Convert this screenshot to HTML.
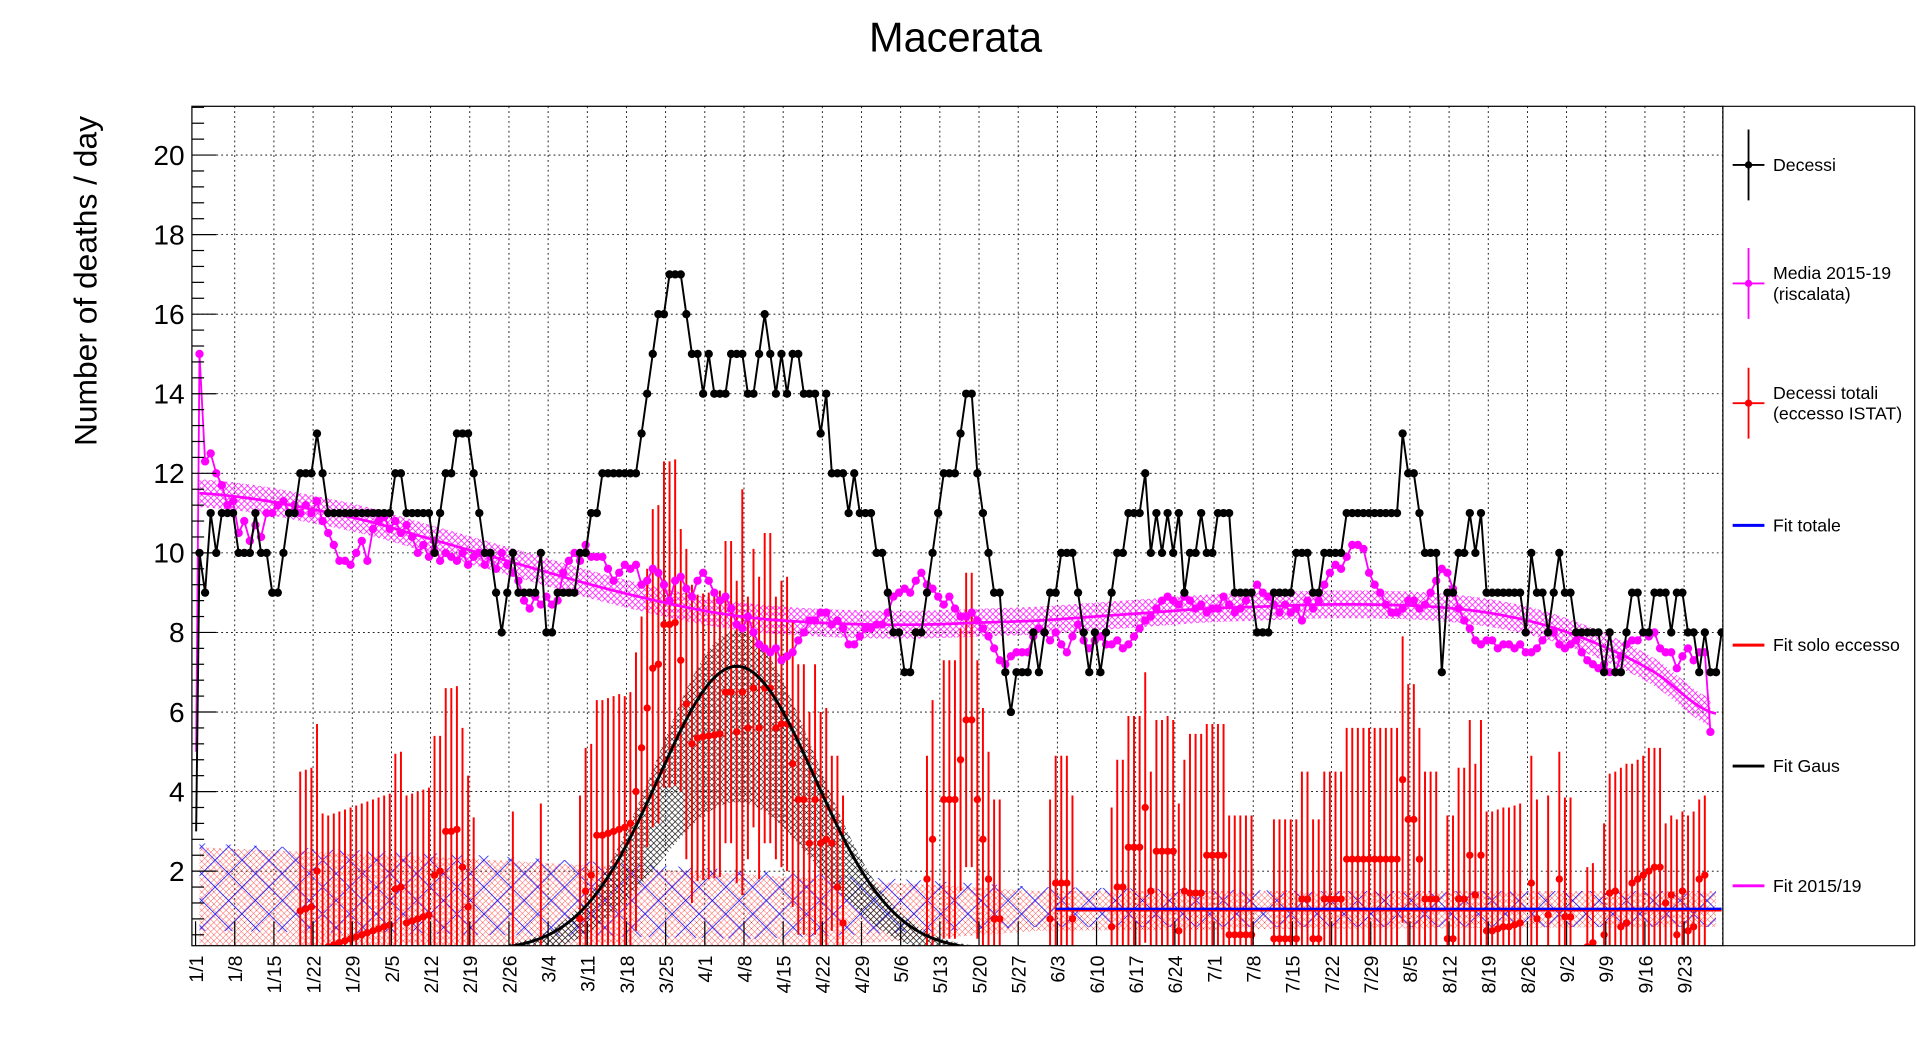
<!DOCTYPE html>
<html><head><meta charset="utf-8"><style>
html,body{margin:0;padding:0;background:#fff;overflow:hidden}
svg{display:block;font-family:"Liberation Sans",sans-serif}
</style></head><body>
<svg id="chart" width="1916" height="1052" viewBox="0 0 1568 861" xmlns="http://www.w3.org/2000/svg">
<defs>
<pattern id="hM" width="5" height="5" patternUnits="userSpaceOnUse"><path d="M0,0L5,5M5,0L0,5" stroke="#f0f" stroke-width="0.6"/></pattern>
<pattern id="hR" width="5" height="5" patternUnits="userSpaceOnUse"><path d="M0,0L5,5M5,0L0,5" stroke="#f00" stroke-width="0.35"/></pattern>
<pattern id="hB" width="22" height="22" patternUnits="userSpaceOnUse"><path d="M0,0L22,22M22,0L0,22" stroke="#00f" stroke-width="0.6"/></pattern>
<pattern id="hK" width="5" height="5" patternUnits="userSpaceOnUse"><path d="M0,0L5,5M5,0L0,5" stroke="#000" stroke-width="0.5"/></pattern>
<clipPath id="pc"><rect x="157" y="87" width="1253" height="687"/></clipPath>
</defs>
<text x="782" y="42" font-size="34" text-anchor="middle">Macerata</text>
<text transform="translate(79,230) rotate(-90)" font-size="26" text-anchor="middle">Number of deaths / day</text>
<g id="grid"></g>
<g id="bands" clip-path="url(#pc)"></g>
<g id="series" clip-path="url(#pc)"></g>
<rect x="157" y="87" width="1253" height="687" fill="none" stroke="#000" stroke-width="1"/>
<g id="axes"></g>
<g id="legend">
<line x1="1410" y1="87" x2="1410" y2="774" stroke="#000" stroke-dasharray="2,2"/>
<line x1="1410" y1="87" x2="1567" y2="87" stroke="#000"/>
<line x1="1567" y1="87" x2="1567" y2="774" stroke="#000"/>
<line x1="1410" y1="774" x2="1567" y2="774" stroke="#000"/>
</g>
</svg>
<script>
const NS="http://www.w3.org/2000/svg";
const xTickLabels=["1/1","1/8","1/15","1/22","1/29","2/5","2/12","2/19","2/26","3/4","3/11","3/18","3/25","4/1","4/8","4/15","4/22","4/29","5/6","5/13","5/20","5/27","6/3","6/10","6/17","6/24","7/1","7/8","7/15","7/22","7/29","8/5","8/12","8/19","8/26","9/2","9/9","9/16","9/23"];
const yTickLabels=[2,4,6,8,10,12,14,16,18,20];
const decessi=[10,9,11,10,11,11,11,10,10,10,11,10,10,9,9,10,11,11,12,12,12,13,12,11,11,11,11,11,11,11,11,11,11,11,11,12,12,11,11,11,11,11,10,11,12,12,13,13,13,12,11,10,10,9,8,9,10,9,9,9,9,10,8,8,9,9,9,9,10,10,11,11,12,12,12,12,12,12,12,13,14,15,16,16,17,17,17,16,15,15,14,15,14,14,14,15,15,15,14,14,15,16,15,14,15,14,15,15,14,14,14,13,14,12,12,12,11,12,11,11,11,10,10,9,8,8,7,7,8,8,9,10,11,12,12,12,13,14,14,12,11,10,9,9,7,6,7,7,7,8,7,8,9,9,10,10,10,9,8,7,8,7,8,9,10,10,11,11,11,12,10,11,10,11,10,11,9,10,10,11,10,10,11,11,11,9,9,9,9,8,8,8,9,9,9,9,10,10,10,9,9,10,10,10,10,11,11,11,11,11,11,11,11,11,11,13,12,12,11,10,10,10,7,9,9,10,10,11,10,11,9,9,9,9,9,9,9,8,10,9,9,8,9,10,9,9,8,8,8,8,8,7,8,7,7,8,9,9,8,8,9,9,9,8,9,9,8,8,7,8,7,7,8];
const media=[15,12.3,12.5,12,11.7,11.2,11.3,10.5,10.8,10.3,10.7,10.4,11,11,11.2,11.3,11,11.2,11,11.2,11,11.3,10.8,10.5,10.2,9.8,9.8,9.7,10,10.3,9.8,10.6,10.8,10.9,10.6,10.8,10.5,10.7,10.4,10,10.2,9.9,10.3,9.8,10,9.9,9.8,10,9.7,9.9,10,9.7,9.9,9.6,10,9.7,9.5,9.3,8.8,8.6,8.9,8.7,8.9,8.7,8.8,9.5,9.8,10,9.8,10.2,9.9,9.9,9.9,9.6,9.3,9.5,9.7,9.6,9.7,9.2,9.3,9.6,9.5,9.2,8.8,9.3,9.4,9.1,8.9,9.3,9.5,9.3,9,8.8,8.9,8.6,8.2,8.1,8.4,8,7.7,7.6,7.5,7.6,7.3,7.4,7.5,7.8,8,8.3,8.3,8.5,8.5,8.2,8.3,8.1,7.7,7.7,7.9,8.1,8.1,8.2,8.2,8.5,8.9,9,9.1,9,9.3,9.5,9.2,9.1,8.9,8.7,8.9,8.6,8.4,8.4,8.5,8.3,8.1,7.9,7.6,7.3,7.2,7.4,7.5,7.5,7.5,7.9,8.1,8,7.8,8,7.7,7.5,7.9,8.2,7.8,7.6,7.8,7.9,7.7,7.7,7.8,7.6,7.7,7.9,8.1,8.3,8.4,8.6,8.8,8.9,8.8,8.7,8.9,8.8,8.6,8.7,8.5,8.6,8.6,8.9,8.7,8.5,8.6,8.8,9,9.2,9,8.9,8.7,8.5,8.7,8.5,8.6,8.3,8.8,8.6,8.8,9.2,9.5,9.7,9.6,9.9,10.2,10.2,10.1,9.5,9.2,9,8.7,8.5,8.5,8.6,8.8,8.8,8.6,8.7,9,9.3,9.6,9.5,9.1,8.6,8.3,8.1,7.8,7.7,7.8,7.8,7.6,7.7,7.7,7.6,7.7,7.5,7.5,7.6,7.8,8,8,7.7,7.6,7.7,7.8,7.5,7.3,7.2,7.1,7.2,7,7,7.4,7.7,7.8,7.8,8,7.9,8,7.6,7.5,7.5,7.1,7.4,7.6,7.3,7.5,7.5,5.5];
const redDays=[18,19,20,21,22,23,24,25,26,27,28,29,30,31,32,33,34,35,36,37,38,39,40,41,42,43,44,45,46,47,48,49,56,61,68,69,70,71,72,73,74,75,76,77,78,79,80,81,82,83,84,85,86,87,88,89,90,91,92,93,94,95,96,97,98,99,100,101,102,103,104,105,106,107,108,109,110,111,112,113,114,115,130,131,133,134,135,136,137,138,139,140,141,142,143,152,153,154,155,156,163,164,165,166,167,168,169,170,171,172,173,174,175,176,177,178,179,180,181,182,183,184,185,186,187,188,192,193,194,195,196,197,198,199,200,201,202,203,204,205,206,207,208,209,210,211,212,213,214,215,216,217,218,219,220,221,223,224,225,226,227,228,229,230,231,232,233,234,235,236,238,239,241,243,244,245,248,249,251,252,253,254,255,256,257,258,259,260,261,262,263,264,265,266,267,268,269];
const redVals=[1,1.05,1.1,2,0.05,0.1,0.15,0.2,0.25,0.3,0.35,0.4,0.45,0.5,0.55,0.6,0.65,1.55,1.6,0.7,0.75,0.8,0.85,0.9,1.9,2,3,3,3.05,2.1,1.1,0.05,-0.2,-0.1,0.8,1.5,1.9,2.9,2.9,2.95,3,3.05,3.1,3.2,4,5.1,6.1,7.1,7.2,8.2,8.2,8.25,7.3,6.2,5.2,5.35,5.38,5.4,5.42,5.45,6.5,6.5,5.5,6.5,5.6,6.6,5.6,6.6,6.6,5.6,5.7,5.7,4.7,3.8,3.8,2.7,3.8,2.7,2.8,2.7,1.6,0.7,1.8,2.8,3.8,3.8,3.8,4.8,5.8,5.8,3.8,2.8,1.8,0.8,0.8,0.8,1.7,1.7,1.7,0.8,0.6,1.6,1.6,2.6,2.6,2.6,3.6,1.5,2.5,2.5,2.5,2.5,0.5,1.5,1.45,1.45,1.45,2.4,2.4,2.4,2.4,0.4,0.4,0.4,0.4,0.4,0.3,0.3,0.3,0.3,0.3,1.3,1.3,0.3,0.3,1.3,1.3,1.3,1.3,2.3,2.3,2.3,2.3,2.3,2.3,2.3,2.3,2.3,2.3,4.3,3.3,3.3,2.3,1.3,1.3,1.3,0.3,0.3,1.3,1.3,2.4,1.4,2.4,0.5,0.5,0.55,0.6,0.6,0.65,0.7,1.7,0.8,0.9,1.8,0.85,0.85,0.1,0.2,0.4,1.45,1.5,0.6,0.7,1.7,1.8,1.9,2,2.1,2.1,1.2,1.4,0.4,1.5,0.5,0.6,1.8,1.9];
const redErrs=[3.5,3.5,3.5,3.7,3.4,3.3,3.3,3.3,3.3,3.3,3.3,3.3,3.3,3.3,3.3,3.3,3.3,3.4,3.4,3.2,3.2,3.2,3.2,3.2,3.5,3.4,3.6,3.6,3.6,3.5,3.3,3.3,3.7,3.8,3.1,3.6,3.3,3.4,3.4,3.4,3.4,3.4,3.3,3.3,3.5,3.3,3.5,4,4,4.1,4.1,4.1,3.3,3.9,4,3.6,3.6,3.6,3.6,3.6,3.8,3.8,3.8,5.1,3.3,3.5,3.8,3.9,3.9,3.3,3.6,3.7,3.6,3.4,3.4,3.3,3.4,3.3,3.3,2.2,3.3,3.2,3.1,3.5,3.5,3.5,3.5,3.3,3.7,3.7,3.5,3.3,3.2,3,3,3,3.2,3.2,3.2,3.1,3,3.2,3.2,3.3,3.3,3.3,3.4,3,3.3,3.3,3.4,3.3,3.2,3.3,4,4,4,3.3,3.3,3.3,3.3,3,3,3,3,3,3,3,3,3,3,3.2,3.2,3,3,3.2,3.2,3.2,3.2,3.3,3.3,3.3,3.3,3.3,3.3,3.3,3.3,3.3,3.3,3.6,3.4,3.4,3.3,3.2,3.2,3.2,3.1,3.1,3.3,3.3,3.4,3.3,3.4,3,3,3,3,3,3,3,3.2,3,3,3.2,3,3,2,2,2.8,3,3,4,4,3,3,3,3.1,3,3,2,2,2.9,2,2.9,2.9,2,2];
const fitDays=[0,10,20,30,40,50,60,70,80,90,100,110,120,130,140,150,160,170,180,190,200,210,220,230,240,250,260,270];
const fitVals=[11.5,11.35,11.1,10.8,10.4,10,9.6,9.2,8.85,8.55,8.35,8.25,8.2,8.2,8.25,8.3,8.4,8.5,8.6,8.65,8.7,8.7,8.65,8.5,8.2,7.7,7,6];
const gausAmp=7.15, gausMean=96, gausSigma=14;
const blueBandDays=[0,50,100,150,200,271];
const blueLow=[0.5,0.4,0.3,0.6,0.6,0.6];
const blueHigh=[2.7,2.4,2.0,1.6,1.5,1.5];
const redBandLow=[0,0,0,0.5,0.55,0.6];
const redBandHigh=[2.6,2.3,1.9,1.5,1.5,1.5];
const excessFitDays=[153,272];
const excessFitVals=[1.05,1.05];

const X=d=>160+4.58*(d+0.7);
const Y=v=>778.1-32.56*v;
function mk(tag,attrs,parent){const e=document.createElementNS(NS,tag);for(const k in attrs)e.setAttribute(k,attrs[k]);parent.appendChild(e);return e;}
function interp(ds,vs,d){for(let i=0;i<ds.length-1;i++){if(d<=ds[i+1]){const t=(d-ds[i])/(ds[i+1]-ds[i]);return vs[i]+t*(vs[i+1]-vs[i]);}}return vs[vs.length-1];}
function smooth(ds,vs,d){
  let i=0;while(i<ds.length-2&&d>ds[i+1])i++;
  const p0=vs[Math.max(i-1,0)],p1=vs[i],p2=vs[i+1],p3=vs[Math.min(i+2,vs.length-1)];
  const t=(d-ds[i])/(ds[i+1]-ds[i]);
  return 0.5*((2*p1)+(-p0+p2)*t+(2*p0-5*p1+4*p2-p3)*t*t+(-p0+3*p1-3*p2+p3)*t*t*t);
}
const grid=document.getElementById('grid'),axes=document.getElementById('axes'),bands=document.getElementById('bands'),ser=document.getElementById('series');
yTickLabels.forEach(v=>{
  const gl=mk('line',{x1:157,x2:1410,y1:Y(v),y2:Y(v),stroke:'#000','stroke-width':0.7,'stroke-dasharray':'1.5,2.5'},grid);
  
  
  const t=mk('text',{x:151,y:Y(v)+8,'font-size':23,'text-anchor':'end'},axes);
  t.textContent=v;
  
  
});
for(let v=0.4;v<21.2;v+=0.4){
  const maj=Math.abs(v/2-Math.round(v/2))<0.01;
  const tk=mk('line',{x1:157,x2:157+(maj?20:10),y1:Y(v),y2:Y(v),stroke:'#000','stroke-width':1},axes);
  
  
}
xTickLabels.forEach((lab,i)=>{
  const xx=160+4.58*7*i;
  if(i>0){const gl=mk('line',{x1:xx,x2:xx,y1:87,y2:774,stroke:'#000','stroke-width':0.7,'stroke-dasharray':'1.5,2.5'},grid);
  
  }
  const tk=mk('line',{x1:xx,x2:xx,y1:774,y2:754,stroke:'#000','stroke-width':1},axes);
  
  
  const t=mk('text',{transform:`translate(${xx+6},782) rotate(-90)`,'font-size':16,'text-anchor':'end'},axes);
  t.textContent=lab;
  
  
});
function band(ds,lo,hi,fill,name,fn){
  let top=[],bot=[];
  for(let d=ds[0];d<=ds[ds.length-1];d+=1){top.push(X(d)+','+Y(fn(ds,hi,d)));bot.unshift(X(d)+','+Y(fn(ds,lo,d)));}
  const p=mk('polygon',{points:top.concat(bot).join(' '),fill:fill},bands);
  
  
}
band(blueBandDays,redBandLow,redBandHigh,'url(#hR)','excess-fit-band',interp);
band(blueBandDays,blueLow,blueHigh,'url(#hB)','total-fit-band',interp);
band(fitDays,fitVals.map(v=>v-0.35),fitVals.map(v=>v+0.35),'url(#hM)','fit-2015-19-band',smooth);
{let top=[],bot=[];const g=d=>gausAmp*Math.exp(-0.5*Math.pow((d-gausMean)/gausSigma,2));
 for(let d=50;d<=142;d++){top.push(X(d)+','+Y(g(d)*1.12+0.05));bot.unshift(X(d)+','+Y(Math.max(g(d)*0.55-0.2,0)));}
 const p=mk('polygon',{points:top.concat(bot).join(' '),fill:'url(#hK)'},bands);
 
 }
redDays.forEach((d,i)=>{
  const v=redVals[i],e=redErrs[i];
  const b=mk('line',{x1:X(d),x2:X(d),y1:Y(Math.max(v-e,0)),y2:Y(v+e),stroke:'#f00','stroke-width':1.6},ser);
  
  
});
redDays.forEach((d,i)=>{
  const c=mk('circle',{cx:X(d),cy:Y(redVals[i]),r:3,fill:'#f00'},ser);
  
  
});
{let pts=[];for(let d=0;d<=271;d++)pts.push(X(d)+','+Y(smooth(fitDays,fitVals,d)));
 const l=mk('polyline',{points:pts.join(' '),fill:'none',stroke:'#f0f','stroke-width':2.2},ser);
 
 }
{const pts=media.map((v,d)=>X(d)+','+Y(v));pts.unshift(X(-0.6)+','+Y(5));
 const l=mk('polyline',{points:pts.join(' '),fill:'none',stroke:'#f0f','stroke-width':1.5},ser);
 
 
 media.forEach((v,d)=>{const c=mk('circle',{cx:X(d),cy:Y(v),r:3.4,fill:'#f0f'},ser);
  
  });}
{const l=mk('line',{x1:X(excessFitDays[0]),x2:X(excessFitDays[1]),y1:Y(excessFitVals[0]),y2:Y(excessFitVals[1]),stroke:'#00f','stroke-width':2.2},ser);
 
 
 const l2=mk('line',{x1:X(excessFitDays[0]),x2:X(excessFitDays[1]),y1:Y(excessFitVals[0])+1.5,y2:Y(excessFitVals[1])+1.5,stroke:'#f00','stroke-width':1.2},ser);
 
 }
{let pts=[];for(let d=50;d<=143;d+=0.5)pts.push(X(d)+','+Y(gausAmp*Math.exp(-0.5*Math.pow((d-gausMean)/gausSigma,2))));
 const l=mk('polyline',{points:pts.join(' '),fill:'none',stroke:'#000','stroke-width':2.4},ser);
 
 }
{const pts=decessi.map((v,d)=>X(d)+','+Y(v));pts.unshift(X(-0.6)+','+Y(3));
 const l=mk('polyline',{points:pts.join(' '),fill:'none',stroke:'#000','stroke-width':1.6},ser);
 
 
 decessi.forEach((v,d)=>{const c=mk('circle',{cx:X(d),cy:Y(v),r:3.4,fill:'#000'},ser);
  
  });}
const leg=document.getElementById('legend');
const legLabels=[["Decessi"],["Media 2015-19","(riscalata)"],["Decessi totali","(eccesso ISTAT)"],["Fit totale"],["Fit solo eccesso"],["Fit Gaus"],["Fit 2015/19"]];
const legColors=['#000','#f0f','#f00','#00f','#f00','#000','#f0f'];
const legY=[135,232,330,430,528,627,725];
legLabels.forEach((lines,i)=>{
  const g=mk('g',{},leg);
  
  
  const y=legY[i],c=legColors[i];
  mk('line',{x1:1418,x2:1444,y1:y,y2:y,stroke:c,'stroke-width':i<3?1.5:2.4},g);
  if(i<3){mk('line',{x1:1431,x2:1431,y1:y-29,y2:y+29,stroke:c,'stroke-width':1.5},g);mk('circle',{cx:1431,cy:y,r:3,fill:c},g);}
  lines.forEach((s,j)=>{const t=mk('text',{x:1451,y:y+5+(j-(lines.length-1)/2)*17,'font-size':14.5},g);t.textContent=s;});
});
</script>
</body></html>
